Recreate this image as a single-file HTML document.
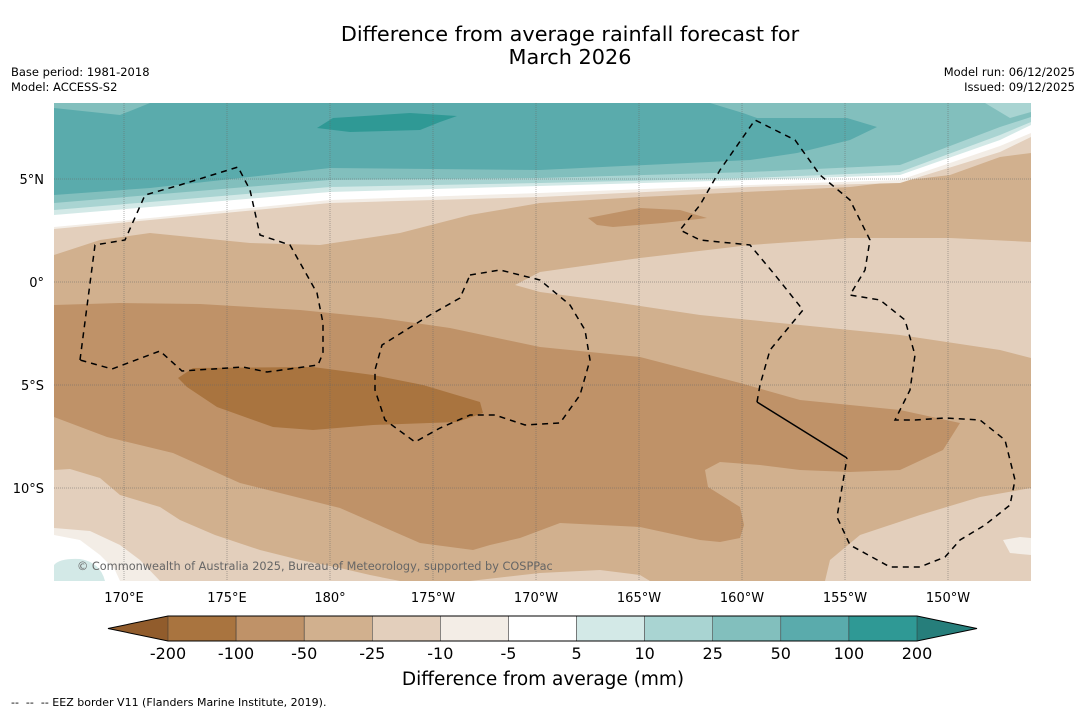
<!DOCTYPE html>
<html><head><meta charset="utf-8">
<style>
body{margin:0;background:#fff;font-family:"Liberation Sans","DejaVu Sans",sans-serif;}
svg text{font-family:"DejaVu Sans","Liberation Sans",sans-serif;}
</style></head>
<body>
<svg id="chart" width="1085" height="713" viewBox="0 0 1085 713" xmlns="http://www.w3.org/2000/svg">
<rect width="1085" height="713" fill="#fff"/>
<text x="570" y="41" font-size="20.8" text-anchor="middle">Difference from average rainfall forecast for</text>
<text x="570" y="64" font-size="20.8" text-anchor="middle">March 2026</text>
<text x="11" y="76" font-size="11.5">Base period: 1981-2018</text>
<text x="11" y="91" font-size="11.5">Model: ACCESS-S2</text>
<text x="1075" y="76" font-size="11.5" text-anchor="end">Model run: 06/12/2025</text>
<text x="1075" y="91" font-size="11.5" text-anchor="end">Issued: 09/12/2025</text>

<defs><clipPath id="mapclip"><rect x="54" y="103" width="977" height="478"/></clipPath></defs>
<g id="map" clip-path="url(#mapclip)">
<rect x="54" y="103" width="977" height="478" fill="#d1b08e"/>
<path fill="#e3cfbc" d="M54,103 L1031,103 L1031,153 L1000,157 L950,175 L850,187 L640,197 L540,203 L470,215 L400,233 L320,245 L250,243 L150,233 L100,240 L54,255 Z"/>
<path fill="#f3ede6" d="M54,103 L1031,103 L1031,137 L1000,152 L900,183 L750,187 L540,197 L330,203 L150,220 L54,229 Z"/>
<path fill="#ffffff" d="M54,103 L1031,103 L1031,133 L1000,146 L900,180 L750,185 L540,193 L330,200 L150,218 L54,227 Z"/>
<path fill="#d3e9e7" d="M54,103 L1031,103 L1031,125 L1000,140 L900,175 L750,180 L540,186 L330,192 L150,207 L54,215 Z"/>
<path fill="#a9d4d2" d="M54,103 L1031,103 L1031,122 L1000,135 L900,172 L750,178 L540,183 L330,187 L150,202 L54,210 Z"/>
<path fill="#82bfbd" d="M54,103 L1031,103 L1031,117 L1000,127 L900,165 L750,172 L540,178 L330,180 L150,195 L54,203 Z"/>
<path fill="#a9d4d2" d="M985,103 L1031,103 L1031,112 L1010,118 Z"/>
<path fill="#5aabac" d="M54,108 L120,115 L150,103 L710,103 L743,113 L757,118 L847,118 L877,127 L850,140 L797,153 L750,160 L540,170 L330,168 L150,188 L54,195 Z"/>
<path fill="#2f9995" d="M317,128 L333,118 L410,113 L457,116 L440,122 L420,130 L350,132 Z"/>

<path fill="#e3cfbc" d="M515,285 L540,272 L640,258 L750,245 L850,238 L950,238 L1031,242 L1031,358 L1000,350 L900,335 L800,325 L700,315 L600,300 L540,292 Z"/>
<path fill="#e3cfbc" d="M1031,488 L980,497 L920,515 L860,535 L830,560 L825,581 L1031,581 Z"/>
<path fill="#f3ede6" d="M1003,540 L1020,537 L1031,538 L1031,555 L1010,553 Z"/>
<path fill="#e3cfbc" d="M54,470 L70,469 L100,478 L120,495 L160,507 L180,520 L215,535 L260,550 L300,560 L340,568 L370,575 L400,581 L54,581 Z"/>
<path fill="#e3cfbc" d="M470,581 L540,573 L600,570 L640,575 L650,581 Z"/>
<path fill="#f3ede6" d="M54,528 L90,531 L120,545 L140,560 L160,581 L54,581 Z"/>
<path fill="#ffffff" d="M54,535 L80,540 L100,555 L115,570 L120,581 L54,581 Z"/>
<path fill="#d3e9e7" d="M54,565 Q60,558 80,559 Q100,562 105,581 L54,581 Z"/>

<path fill="#bf9268" d="M54,305 L120,303 L200,304 L300,310 L380,318 L450,328 L540,347 L640,357 L740,383 L800,400 L900,410 L960,423 L943,450 L900,470 L850,472 L800,470 L760,465 L720,462 L705,470 L708,487 L740,507 L744,525 L740,538 L720,542 L700,540 L640,527 L560,523 L520,538 L490,545 L473,550 L420,543 L340,508 L240,483 L173,453 L107,437 L54,417 Z"/>
<path fill="#bf9268" d="M588,218 L640,208 L680,210 L707,218 L663,223 L613,227 L597,225 Z"/>
<path fill="#a9743f" d="M178,378 L193,368 L313,367 L373,375 L423,385 L480,402 L483,413 L457,422 L373,425 L313,430 L273,427 L217,407 L187,387 Z"/>
</g>
<g id="grid"></g>
<g id="eez" fill="none" stroke="#000" stroke-width="1.5">
<path stroke-dasharray="6,5" d="M80,360 L95,245 L125,240 L145,195 L180,185 L238,167 L250,190 L260,235 L290,245 L317,293 L323,323 L323,353 L318,365 L267,372 L243,367 L182,371 L160,351 L112,369 L80,360"/>
<path stroke-dasharray="6,5" d="M470,275 L500,270 L540,280 L570,305 L585,330 L590,360 L580,395 L560,423 L525,425 L495,415 L470,415 L440,428 L415,442 L385,420 L375,390 L375,370 L382,345 L430,315 L460,298 L470,275"/>
<path stroke-dasharray="6,5" d="M757,402 L760,385 L770,350 L803,310 L775,275 L750,245 L700,240 L680,230 L700,205 L720,170 L755,120 L795,140 L820,175 L850,200 L870,240 L865,270 L850,295 L880,300 L905,320 L915,355 L910,390 L895,420 L915,420 L945,418 L980,420 L1005,440 L1015,480 L1010,505 L985,525 L960,540 L945,557 L920,567 L890,567 L850,545 L837,517 L847,458"/>
<path d="M757,402 L847,458"/>
</g>
<text x="77" y="570" font-size="11.3" fill="#666">© Commonwealth of Australia 2025, Bureau of Meteorology, supported by COSPPac</text>
<g id="axes"></g>
<g id="colorbar"></g>
<text x="543" y="685" font-size="18.5" text-anchor="middle">Difference from average (mm)</text>
<text x="11" y="706" font-size="11" xml:space="preserve">--  --  -- EEZ border V11 (Flanders Marine Institute, 2019).</text>
</svg>
<script>
const lonTicks = [170, 175, 180, 185, 190, 195, 200, 205, 210];
const lonLabels = ["170°E","175°E","180°","175°W","170°W","165°W","160°W","155°W","150°W"];
const latTicks = [5, 0, -5, -10];
const latLabels = ["5°N","0°","5°S","10°S"];
const cbLevels = ["-200","-100","-50","-25","-10","-5","5","10","25","50","100","200"];
const cbColors = ["#a9743f","#bf9268","#d1b08e","#e3cfbc","#f3ede6","#ffffff","#d3e9e7","#a9d4d2","#82bfbd","#5aabac","#2f9995"];
const cbExtendColors = ["#915c2c","#267e7b"];

const NS = "http://www.w3.org/2000/svg";
const xLon = lon => 124 + (lon - 170) * 20.6;
const yLat = lat => 282 - lat * 20.6;
function mk(tag, attrs, parent){const e=document.createElementNS(NS,tag);for(const k in attrs)e.setAttribute(k,attrs[k]);parent.appendChild(e);return e;}
const grid = document.getElementById('grid');
const axes = document.getElementById('axes');
lonTicks.forEach((lon,i)=>{
  const x = xLon(lon);
  const l = mk('line',{x1:x,x2:x,y1:103,y2:581,stroke:'#666','stroke-width':0.5,'stroke-dasharray':'1,1'},grid);
  
  
  const t = mk('text',{x:x,y:602,'font-size':13,'text-anchor':'middle'},axes);
  t.textContent = lonLabels[i];
  
  
});
latTicks.forEach((lat,i)=>{
  const y = yLat(lat);
  const l = mk('line',{x1:54,x2:1031,y1:y,y2:y,stroke:'#666','stroke-width':0.5,'stroke-dasharray':'1,1'},grid);
  
  
  const t = mk('text',{x:44,y:y+5,'font-size':13,'text-anchor':'end'},axes);
  t.textContent = latLabels[i];
  
  
});
const cb = document.getElementById('colorbar');
const cx0 = 168, cw = (917-168)/cbColors.length, cy = 616, ch = 25;
const lt = mk('polygon',{points:`108,${cy+ch/2} ${cx0},${cy} ${cx0},${cy+ch}`,fill:cbExtendColors[0]},cb);


const rt = mk('polygon',{points:`977,${cy+ch/2} 917,${cy} 917,${cy+ch}`,fill:cbExtendColors[1]},cb);


cbColors.forEach((c,i)=>{
  const r = mk('rect',{x:cx0+i*cw,y:cy,width:cw,height:ch,fill:c,stroke:'#333','stroke-width':0.5},cb);
  
  
});
mk('polygon',{points:`108,${cy+ch/2} ${cx0},${cy} 917,${cy} 977,${cy+ch/2} 917,${cy+ch} ${cx0},${cy+ch}`,fill:'none',stroke:'#000','stroke-width':1},cb);
cbLevels.forEach((v,i)=>{
  const t = mk('text',{x:cx0+i*cw,y:659,'font-size':16,'text-anchor':'middle'},cb);
  t.textContent = v;
  
  
});
</script>
</body></html>
